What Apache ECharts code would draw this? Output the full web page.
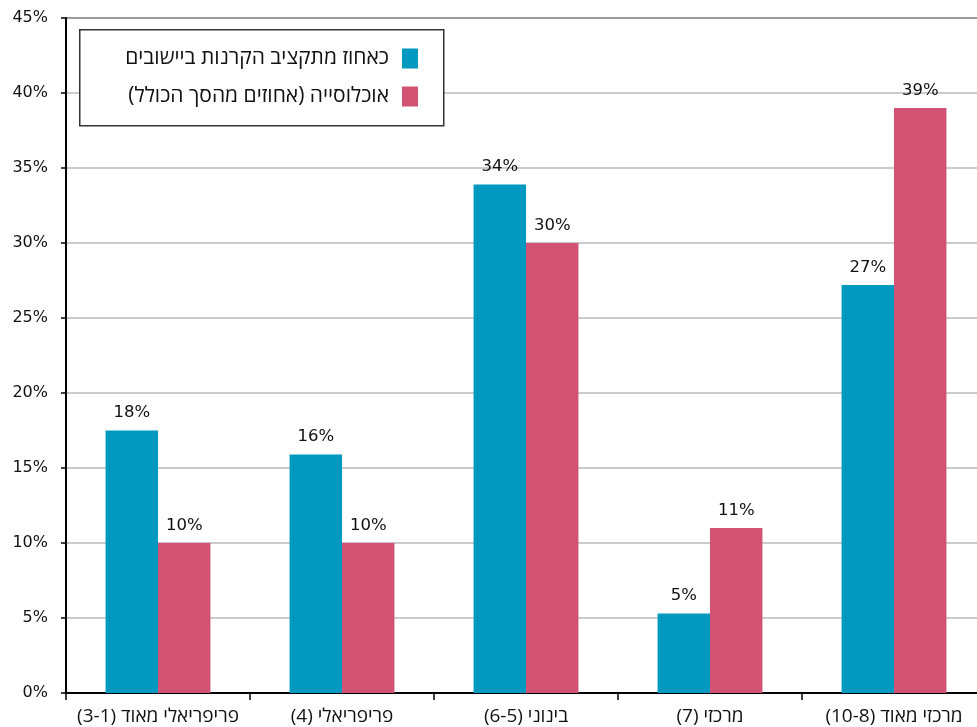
<!DOCTYPE html>
<html>
<head>
<meta charset="utf-8">
<script src="https://cdn.jsdelivr.net/npm/echarts@6/dist/echarts.min.js"></script>
<style>
  html, body { margin: 0; padding: 0; background: #fff; }
  #chart { width: 977px; height: 727px; direction: rtl; }
</style>
</head>
<body>
<div id="chart"></div>
<script>
// Settlement groups by socio-economic periphery/centrality index
const categories = [
  'פריפריאלי מאוד (3-1)',
  'פריפריאלי (4)',
  'בינוני (6-5)',
  'מרכזי (7)',
  'מרכזי מאוד (10-8)'
];
const seriesNames = [
  'כאחוז מתקציב הקרנות ביישובים',
  'אוכלוסייה (אחוזים מהסך הכולל)'
];
// Share of funds' budget (%)
const budgetShare = [17.5, 15.9, 33.9, 5.3, 27.2];
// Share of population (%)
const populationShare = [10, 10, 30, 11, 39];
// Y axis ticks (%)
const yMin = 0, yMax = 45, yStep = 5;

const NUM_FONT = 'DejaVu Sans, sans-serif';
const HEB_FONT = 'Open Sans, Liberation Sans, sans-serif';
const colors = ['#0199BF', '#D15273'];

const chart = echarts.init(document.getElementById('chart'));

const valueLabel = {
  show: true,
  position: 'top',
  distance: 9,
  color: '#111',
  fontSize: 16.5,
  fontFamily: NUM_FONT,
  formatter: p => Math.round(p.value) + '%'
};

chart.setOption({
  animation: false,
  backgroundColor: '#fff',
  textStyle: { fontFamily: NUM_FONT },
  color: colors,
  grid: {
    left: 66,
    top: 18,
    right: -9,
    bottom: 34,
    outerBoundsMode: 'none',
    show: true,
    borderColor: '#000',
    borderWidth: 1.5,
    containLabel: false
  },
  graphic: [{
    type: 'rect',
    left: 79,
    top: 29,
    shape: { width: 364, height: 96 },
    style: { fill: '#fff', stroke: '#333', lineWidth: 1.5 },
    z: 5
  }],
  legend: {
    orient: 'vertical',
    right: 559,
    top: 48,
    align: 'right',
    padding: 0,
    itemWidth: 16,
    itemHeight: 20,
    itemGap: 17,
    icon: 'rect',
    z: 10,
    textStyle: { fontSize: 21, color: '#111', fontFamily: HEB_FONT, padding: [0, 8, 0, 0] },
    data: seriesNames
  },
  xAxis: {
    type: 'category',
    data: categories,
    axisLine: { lineStyle: { color: '#000', width: 2 } },
    axisTick: { show: true, length: 7, lineStyle: { color: '#000', width: 1.5 } },
    axisLabel: { color: '#111', fontSize: 19, margin: 14, fontFamily: HEB_FONT, interval: 0 }
  },
  yAxis: {
    type: 'value',
    min: yMin,
    max: yMax,
    interval: yStep,
    axisLine: { show: true, lineStyle: { color: '#000', width: 2 } },
    axisTick: { show: true, length: 5, lineStyle: { color: '#000', width: 1.5 } },
    axisLabel: { color: '#111', fontSize: 16, margin: 18, fontFamily: NUM_FONT, formatter: v => v + '%' },
    splitLine: { show: true, lineStyle: { color: '#bababa', width: 1.5 } }
  },
  series: [
    {
      name: seriesNames[0],
      type: 'bar',
      data: budgetShare,
      barGap: '0%',
      barCategoryGap: '43%',
      label: valueLabel,
      itemStyle: { color: colors[0] }
    },
    {
      name: seriesNames[1],
      type: 'bar',
      data: populationShare,
      label: valueLabel,
      itemStyle: { color: colors[1] }
    }
  ]
});
</script>
</body>
</html>
